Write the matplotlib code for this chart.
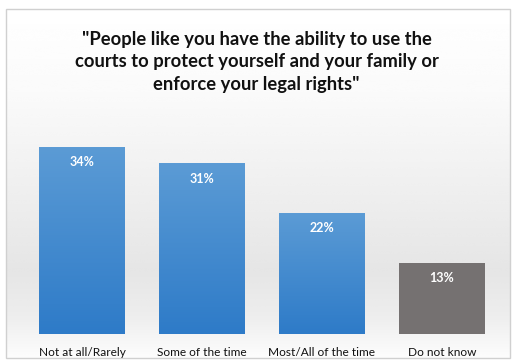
import matplotlib.pyplot as plt
import numpy as np
from matplotlib.patches import Rectangle
from matplotlib.colors import LinearSegmentedColormap

categories = ['Not at all/Rarely', 'Some of the time', 'Most/All of the time', 'Do not know']
values = [34, 31, 22, 13]
labels = ['34%', '31%', '22%', '13%']
title = '"People like you have the ability to use the\ncourts to protect yourself and your family or\nenforce your legal rights"'

plt.rcParams['font.family'] = ['Lato', 'DejaVu Sans']

fig = plt.figure(figsize=(5.13, 3.62), dpi=100)
W, H = 513, 362

# background gradient inside a thin border
bg = fig.add_axes([0, 0, 1, 1], zorder=0)
bg.set_xlim(0, W)
bg.set_ylim(H, 0)
bg.axis('off')
yy = np.linspace(0, 1, 200)
shade = np.interp(yy, [0, 0.25, 0.75, 0.88, 1], [1.0, 0.98, 0.9, 0.93, 0.99])
grad = np.tile(shade[:, None], (1, 2))
bg.imshow(grad, cmap='gray', vmin=0, vmax=1, extent=[6, 510, 358, 9], aspect='auto', interpolation='bicubic')
bg.add_patch(Rectangle((6, 9), 504, 349, fill=False, edgecolor='#d0d0d0', linewidth=1))
bg.text(W / 2, 62, title, ha='center', va='center', fontsize=13.2, fontweight='bold',
        color='#111111', linespacing=1.42)

# bars
ax = fig.add_axes([22 / W, (H - 334) / H, 480 / W, 220 / H], zorder=1)
ax.patch.set_alpha(0)
x = np.arange(len(values))
colors = ['#4a8fd3', '#4a8fd3', '#4a8fd3', '#757171']
bars = ax.bar(x, values, width=0.71, color=colors, edgecolor='none')

cmap = LinearSegmentedColormap.from_list('b', ['#5b9bd5', '#2e7bc8'])
ramp = np.tile(np.linspace(0, 1, 100)[:, None], (1, 2))
for i, b in enumerate(bars):
    if i < 3:
        ax.imshow(ramp, cmap=cmap, extent=[b.get_x(), b.get_x() + b.get_width(), 0, values[i]],
                  aspect='auto', clip_path=b, zorder=2)
    ax.text(i, values[i] - 2.8, labels[i], ha='center', va='center', color='white',
            fontsize=9, fontweight='bold', zorder=3)

ax.set_xlim(-0.5, 3.5)
ax.set_ylim(0, 40)
ax.set_xticks(x)
ax.set_xticklabels(categories, fontsize=8.6, color='#111111')
ax.tick_params(axis='x', length=0, pad=9)
ax.set_yticks([])
for s in ax.spines.values():
    s.set_visible(False)

plt.savefig('out.png', dpi=100)
